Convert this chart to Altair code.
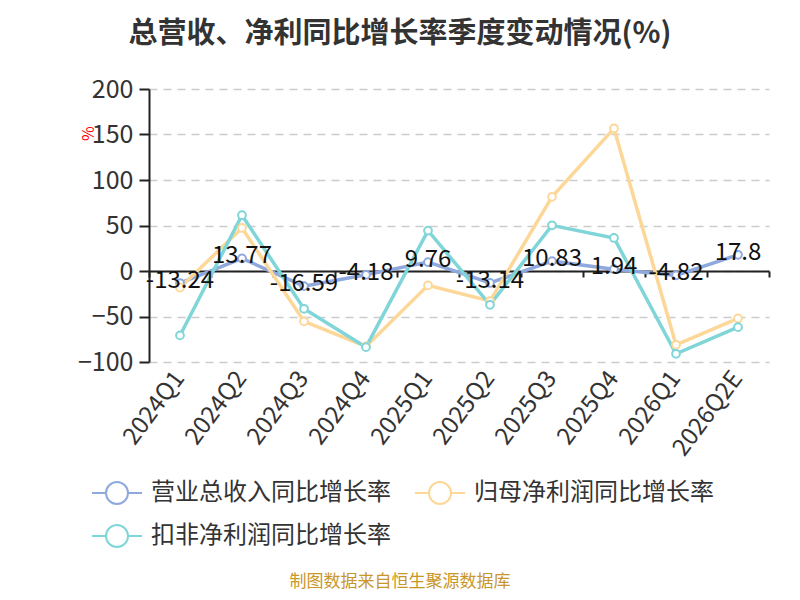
import altair as alt
import pandas as pd

quarters = ["2024Q1", "2024Q2", "2024Q3", "2024Q4", "2025Q1", "2025Q2",
            "2025Q3", "2025Q4", "2026Q1", "2026Q2E"]
series_names = ["营业总收入同比增长率", "归母净利润同比增长率", "扣非净利润同比增长率"]
revenue = [-13.24, 13.77, -16.59, -4.18, 9.76, -13.14, 10.83, 1.94, -4.82, 17.8]
net_profit = [-18.3, 47.3, -55.4, -82.9, -15.8, -33.0, 81.5, 156.7, -81.1, -52.1]
deducted = [-70.8, 61.3, -41.5, -83.7, 44.4, -37.1, 50.2, 36.3, -91.0, -61.7]
colors = ["#8FA9DE", "#FDD797", "#80D5D8"]
y_ticks = [-100, -50, 0, 50, 100, 150, 200]
title_text = "总营收、净利同比增长率季度变动情况(%)"
source_text = "制图数据来自恒生聚源数据库"

rows = []
for name, vals in zip(series_names, [revenue, net_profit, deducted]):
    for q, v in zip(quarters, vals):
        rows.append({"quarter": q, "series": name, "value": v})
df = pd.DataFrame(rows)
df_rev = df[df["series"] == series_names[0]].copy()
df_rev["label"] = [f"{v:g}" for v in revenue]

FONT = "Noto Sans CJK SC"
H = 273
W = 620

xscale = alt.Scale(type="band", domain=quarters, paddingInner=0, paddingOuter=0)
yscale = alt.Scale(domain=[-100, 200], nice=False, zero=False)

legend_path = ("M-2.5,0L-1.1,0M1.1,0L2.5,0"
               "M-1.1,0A1.1,1.1,0,1,1,1.1,0A1.1,1.1,0,1,1,-1.1,0Z")

color_scale = alt.Scale(domain=series_names, range=colors)
color_enc = alt.Color(
    "series:N",
    sort=series_names,
    scale=color_scale,
    legend=alt.Legend(
        title=None, orient="none", legendX=-44, legendY=392,
        columns=2, direction="horizontal",
        symbolType=legend_path, symbolSize=400, symbolStrokeWidth=2,
        symbolFillColor="white",
        labelFont=FONT, labelFontSize=24, labelColor="#333333",
        labelOffset=22, columnPadding=20, rowPadding=13, padding=0,
        labelLimit=400,
    ),
)

x_labels_axis = alt.Axis(
    title=None, orient="bottom", domain=False, ticks=False, grid=False,
    labelAngle=-53, labelAlign="right", labelBaseline="middle",
    labelFont=FONT, labelFontSize=24, labelColor="#333333", labelPadding=12,
)
x_zero_axis = alt.Axis(
    title=None, orient="bottom", labels=False, grid=False, domain=True,
    ticks=True, domainColor="#222222", domainWidth=2, tickColor="#222222",
    tickWidth=2, tickSize=6, tickBand="extent", offset=-91,
)
y_axis = alt.Axis(
    values=y_ticks, title="%", titleColor="#FF0000", titleFont=FONT,
    titleFontSize=16, titleFontWeight="normal", titleAngle=-90,
    titleX=-61, titleY=44, titleAlign="center", titleBaseline="middle",
    labelFont=FONT, labelFontSize=25, labelColor="#333333", labelPadding=6,
    domainColor="#222222", domainWidth=2, tickColor="#222222", tickWidth=2,
    tickSize=10, grid=True, gridColor="#CCCCCC", gridDash=[8, 6], gridWidth=1.5,
)

base = alt.Chart(df)
lines = base.mark_line(strokeWidth=3.5).encode(
    x=alt.X("quarter:N", scale=xscale, sort=quarters, axis=x_labels_axis),
    y=alt.Y("value:Q", scale=yscale, axis=y_axis),
    color=color_enc,
)
points = base.mark_point(
    shape="circle", filled=False, fill="white", fillOpacity=1,
    size=60, strokeWidth=2, opacity=1,
).encode(
    x=alt.X("quarter:N", scale=xscale, sort=quarters, axis=None),
    y=alt.Y("value:Q", scale=yscale),
    color=alt.Color("series:N", sort=series_names, scale=color_scale),
)
labels = alt.Chart(df_rev).mark_text(
    font=FONT, fontSize=24, color="#111111", baseline="middle",
    align="center", dy=-2,
).encode(
    x=alt.X("quarter:N", scale=xscale, sort=quarters, axis=x_zero_axis),
    y=alt.Y("value:Q", scale=yscale),
    text="label:N",
)
source = alt.Chart(pd.DataFrame({"t": [source_text]})).mark_text(
    font=FONT, fontSize=17, color="#C9962A", align="center", baseline="middle",
).encode(
    x=alt.value(251), y=alt.value(493), text="t:N",
)

chart = alt.layer(lines, points, labels, source).resolve_axis(
    x="independent"
).properties(
    width=W, height=H,
    padding={"left": 141, "top": 81, "right": 23, "bottom": 230},
    autosize=alt.AutoSizeParams(type="none"),
    title=alt.TitleParams(
        text=title_text, font=FONT, fontSize=29, fontWeight="bold",
        color="#333333", anchor="middle", dx=-59, offset=28,
    ),
    background="white",
).configure_view(stroke=None)

chart.save("out.html", embed_options={"renderer": "svg", "actions": False})
